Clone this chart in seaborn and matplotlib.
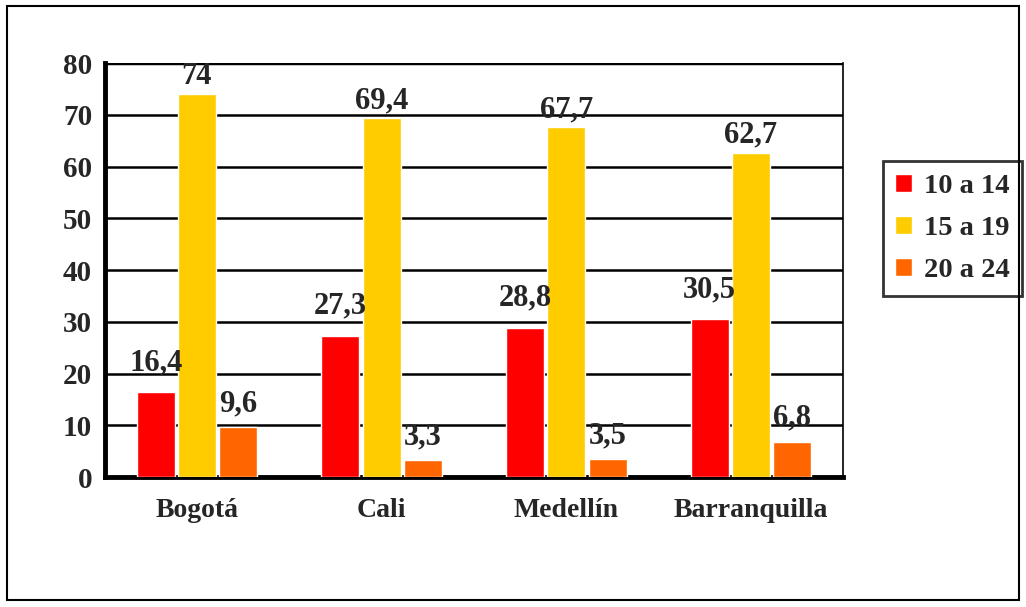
import pandas as pd
import seaborn as sns
import matplotlib.pyplot as plt
from matplotlib.patches import Rectangle

# Chart data
ciudades = ["Bogotá", "Cali", "Medellín", "Barranquilla"]
edades = ["10 a 14", "15 a 19", "20 a 24"]
g_10_14 = [16.4, 27.3, 28.8, 30.5]
g_15_19 = [74, 69.4, 67.7, 62.7]
g_20_24 = [9.6, 3.3, 3.5, 6.8]
colores = ["#FF0000", "#FFCC00", "#FF6600"]

df = pd.DataFrame({
    "ciudad": ciudades * 3,
    "edad": [e for e in edades for _ in ciudades],
    "valor": g_10_14 + g_15_19 + g_20_24,
})

sns.set_style("white")
plt.rcParams["font.family"] = ["Liberation Serif", "DejaVu Serif"]
plt.rcParams["font.weight"] = "bold"

fig = plt.figure(figsize=(10.26, 6.07), dpi=100)
ax = fig.add_axes([0.102, 0.214, 0.72, 0.682])

# gridlines behind bars
for y in range(10, 90, 10):
    ax.axhline(y, color="black", lw=1.8 if y < 80 else 2.5, zorder=0)

sns.barplot(data=df, x="ciudad", y="valor", hue="edad", palette=colores,
            width=0.67, gap=0.08, saturation=1, ax=ax, zorder=3,
            legend=True)

def fmt(v):
    s = f"{v:g}"
    return s.replace(".", ",")

# label offsets per series (points)
pads = [11, 2, 6.5]
for cont, p in zip(ax.containers, pads):
    ax.bar_label(cont, labels=[fmt(b.get_height()) for b in cont],
                 padding=p, fontsize=22, fontweight="bold")

ax.set_xlim(-0.5, 3.5)
ax.set_ylim(0, 80)
ax.set_yticks(range(0, 90, 10))
ax.set_xlabel("")
ax.set_ylabel("")
ax.set_xticks([0, 1, 2, 3])
ax.set_xticklabels(ciudades, fontsize=20, fontweight="bold")
ax.set_xticks([-0.5, 0.5, 1.5, 2.5, 3.5], minor=True)
ax.tick_params(axis="x", which="major", length=0, pad=15)
ax.tick_params(axis="x", which="minor", length=7, width=1.5, direction="out")
ax.tick_params(axis="y", length=7, width=2, direction="out", labelsize=21, pad=2)
for t in ax.get_yticklabels():
    t.set_fontweight("bold")

ax.spines["top"].set_visible(False)
ax.spines["left"].set_linewidth(3.5)
ax.spines["bottom"].set_linewidth(3.5)
ax.spines["right"].set_linewidth(1.2)
for s in ax.spines.values():
    s.set_color("black")
ax.spines["bottom"].set_zorder(1)

leg = ax.legend(loc="center left", bbox_to_anchor=(1.053, 0.6), frameon=True,
                fancybox=False, edgecolor="black", fontsize=20.5,
                handlelength=0.6, handleheight=0.6, handletextpad=0.4,
                labelspacing=0.6, borderpad=0.45, borderaxespad=0, title=None)
leg.get_frame().set_linewidth(2)
for txt in leg.get_texts():
    txt.set_fontweight("bold")

fig.patches.append(Rectangle((0.007, 0.012), 0.986, 0.978, transform=fig.transFigure,
                             fill=False, edgecolor="black", lw=1.5))

fig.savefig("out.png", dpi=100)
